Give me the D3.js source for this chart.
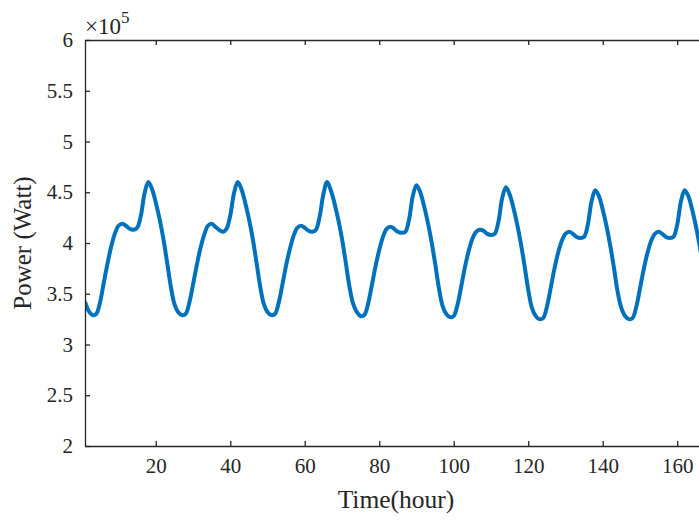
<!DOCTYPE html>
<html>
<head>
<meta charset="utf-8">
<script src="https://cdn.jsdelivr.net/npm/d3@7"></script>
<style>
  html, body { margin: 0; padding: 0; background: #fff; overflow: hidden; }
  svg { display: block; }
  text { font-family: "Liberation Serif", "Times New Roman", serif; fill: #262626; }
</style>
</head>
<body>
<svg id="chart" width="699" height="523"></svg>
<script>
// ---- data (power in units of 1e5 W, hourly, hours 1..168) ----
const day1 = [3.42,3.33,3.29,3.30,3.41,3.60,3.79,3.96,4.09,4.17,4.19,4.17,4.14,4.13,4.15,4.27,4.49,4.60,4.53,4.40,4.24,4.05,3.82,3.58];
const day2 = [3.40,3.32,3.29,3.30,3.41,3.59,3.78,3.95,4.08,4.17,4.19,4.16,4.13,4.11,4.14,4.27,4.49,4.60,4.53,4.40,4.24,4.05,3.82,3.58];
const day3 = [3.40,3.32,3.29,3.30,3.41,3.59,3.78,3.94,4.07,4.15,4.17,4.15,4.12,4.11,4.13,4.26,4.48,4.60,4.52,4.39,4.23,4.04,3.81,3.57];
const day4 = [3.40,3.32,3.28,3.29,3.40,3.58,3.77,3.93,4.06,4.14,4.16,4.14,4.11,4.10,4.11,4.23,4.46,4.57,4.50,4.37,4.21,4.02,3.80,3.56];
const day5 = [3.38,3.30,3.27,3.28,3.39,3.57,3.76,3.92,4.04,4.11,4.13,4.12,4.09,4.08,4.09,4.21,4.44,4.55,4.48,4.35,4.19,4.00,3.78,3.54];
const day6 = [3.36,3.28,3.25,3.26,3.37,3.55,3.74,3.90,4.02,4.09,4.11,4.09,4.06,4.05,4.06,4.18,4.41,4.52,4.46,4.33,4.17,3.98,3.76,3.52];
const day7 = [3.36,3.28,3.25,3.26,3.37,3.55,3.74,3.90,4.02,4.09,4.11,4.09,4.06,4.05,4.06,4.18,4.41,4.52,4.46,4.33,4.17,3.98,3.76,3.52];
const powerValues = [].concat(day1, day2, day3, day4, day5, day6, day7);
const hours = powerValues.map((_, i) => i + 1);

const xTicks = [20, 40, 60, 80, 100, 120, 140, 160];
const yTicks = [2, 2.5, 3, 3.5, 4, 4.5, 5, 5.5, 6];
const xLabel = "Time(hour)";
const yLabel = "Power (Watt)";

// ---- layout ----
const svg = d3.select("#chart");
const mLeft = 85, mRight = 707, mTop = 40, mBottom = 446;
const x = d3.scaleLinear().domain([1, 168]).range([mLeft, mRight]);
const y = d3.scaleLinear().domain([2, 6]).range([mBottom, mTop]);
const axisColor = "#262626";
const tickLen = 5;

// clip
svg.append("clipPath").attr("id", "plotclip")
  .append("rect").attr("x", mLeft).attr("y", mTop).attr("width", mRight - mLeft).attr("height", mBottom - mTop);

// line
const line = d3.line()
  .x((d, i) => x(hours[i]))
  .y(d => y(d))
  .curve(d3.curveCatmullRom.alpha(0.5));

svg.append("path")
  .datum(powerValues)
  .attr("clip-path", "url(#plotclip)")
  .attr("fill", "none")
  .attr("stroke", "#0072BD")
  .attr("stroke-width", 4)
  .attr("stroke-linejoin", "round")
  .attr("d", line);

// axes via d3 axis generators
const fmtY = d => d3.format("~g")(d);
const xAxisB = d3.axisBottom(x).tickValues(xTicks).tickSizeInner(-tickLen).tickSizeOuter(0).tickPadding(12);
const xAxisT = d3.axisTop(x).tickValues(xTicks).tickSizeInner(-tickLen).tickSizeOuter(0).tickFormat("");
const yAxisL = d3.axisLeft(y).tickValues(yTicks).tickSizeInner(-tickLen).tickSizeOuter(0).tickPadding(12).tickFormat(fmtY);
const yAxisR = d3.axisRight(y).tickValues(yTicks).tickSizeInner(-tickLen).tickSizeOuter(0).tickFormat("");

function styleAxis(g) {
  g.select(".domain").attr("stroke", axisColor).attr("stroke-width", 1.3);
  g.selectAll(".tick line").attr("stroke", axisColor).attr("stroke-width", 1.3);
  g.selectAll(".tick text").attr("fill", axisColor)
    .style("font-family", '"Liberation Serif", "Times New Roman", serif')
    .style("font-size", "21px");
}

svg.append("g").attr("transform", `translate(0,${mBottom})`).call(xAxisB).call(styleAxis);
svg.append("g").attr("transform", `translate(0,${mTop})`).call(xAxisT).call(styleAxis);
svg.append("g").attr("transform", `translate(${mLeft},0)`).call(yAxisL).call(styleAxis);
svg.append("g").attr("transform", `translate(${mRight},0)`).call(yAxisR).call(styleAxis);

// exponent label
const ex = svg.append("text").attr("x", mLeft).attr("y", 34)
  .style("font-size", "23px").attr("fill", axisColor);
ex.append("tspan").text("\u00d710");
ex.append("tspan").attr("dy", -11).style("font-size", "17px").text("5");

// axis labels
svg.append("text")
  .attr("x", (mLeft + mRight) / 2).attr("y", 508)
  .attr("text-anchor", "middle")
  .style("font-size", "25.5px")
  .text(xLabel);

svg.append("text")
  .attr("transform", `translate(31,${(mTop + mBottom) / 2}) rotate(-90)`)
  .attr("text-anchor", "middle")
  .style("font-size", "25px")
  .text(yLabel);
</script>
</body>
</html>
